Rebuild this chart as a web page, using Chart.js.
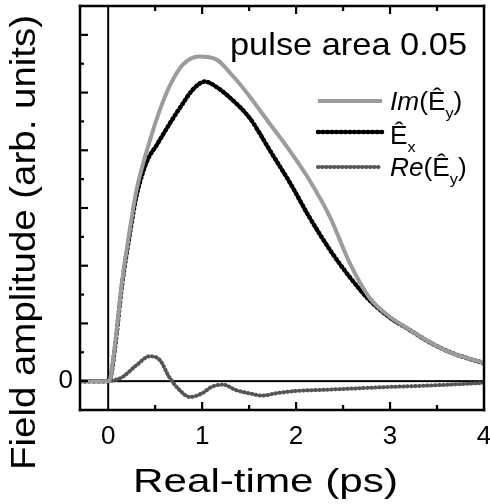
<!DOCTYPE html>
<html><head><meta charset="utf-8">
<script src="https://cdn.jsdelivr.net/npm/chart.js@4.4.1/dist/chart.umd.min.js"></script>
<style>html,body{margin:0;padding:0;background:#fff;}#wrap{width:490px;height:504px;}</style>
</head><body><div id="wrap"><canvas id="c" width="490" height="504"></canvas></div>
<script>
// ---- data ----
const imX = [-0.3,-0.15,0,0.016,0.07,0.15,0.23,0.3,0.44,0.55,0.65,0.79,0.97,1.15,1.32,1.51,1.69,1.93,2.14,2.36,2.57,2.78,2.99,3.21,3.42,3.64,4.0];
const imY = [0,0,0,0.03,1.18,3.5,5.24,6.6,8.3,9.4,10.2,10.95,11.25,11.15,10.6,9.85,9.05,8.0,6.98,5.69,4.1,2.9,2.25,1.78,1.36,1.0,0.63];
const exX = [-0.3,0,0.03,0.07,0.15,0.23,0.3,0.41,0.52,0.65,0.79,0.9,1.03,1.15,1.32,1.51,1.61,1.72,1.93,2.14,2.36,2.57,2.78,2.99,3.21,3.42,3.64,4.0];
const exY = [0,0,0.2,1.1,3.4,5.1,6.4,7.6,8.2,8.9,9.6,10.1,10.38,10.2,9.75,9.1,8.6,8.0,6.9,5.69,4.55,3.61,2.81,2.22,1.77,1.35,1.0,0.62];
const reX = [-0.3,0,0.05,0.15,0.3,0.44,0.55,0.65,0.76,0.87,1.0,1.1,1.22,1.36,1.5,1.64,1.79,2.0,2.3,2.64,3.0,3.35,3.7,4.0];
const reY = [0,0,0.02,0.14,0.55,0.86,0.73,0.14,-0.31,-0.55,-0.42,-0.2,-0.12,-0.31,-0.42,-0.5,-0.42,-0.34,-0.3,-0.25,-0.2,-0.16,-0.11,-0.06];
const xTickValues = [0,1,2,3,4];
const xTickLabels = ['0','1','2','3','4'];
const yTickValues = [0];
const yTickLabels = ['0'];
const xMinorTicks = [0.5,1,1.5,2,2.5,3,3.5];
const yMinorTicks = [0,1,2,3,4,5,6,7,8,9,10,11,12];
const seriesLabels = ['Im','Ê','Re'];
const titleX = 'Real-time (ps)';
const titleY = 'Field amplitude (arb. units)';
const annotation = 'pulse area 0.05';

const FONT = '"Liberation Sans", Arial, Helvetica, sans-serif';
const pts = (xs, ys) => xs.map((x, i) => ({x, y: ys[i]}));

function fitText(ctx, text, x, y, size, width, rot) {
  ctx.save();
  ctx.font = size + 'px ' + FONT;
  const w = ctx.measureText(text).width;
  ctx.translate(x, y);
  if (rot) ctx.rotate(rot);
  ctx.scale(width / w, 1);
  ctx.textAlign = 'left'; ctx.textBaseline = 'alphabetic';
  ctx.fillStyle = '#000';
  ctx.fillText(text, 0, 0);
  ctx.restore();
}
function rich(ctx, segs, x, y, size, sx) {
  ctx.save();
  ctx.translate(x, y); ctx.scale(sx, 1);
  ctx.fillStyle = '#000'; ctx.textBaseline = 'alphabetic'; ctx.textAlign = 'left';
  let cx = 0;
  for (const s of segs) {
    const fs = s.sub ? size * 0.62 : size;
    ctx.font = (s.it ? 'italic ' : '') + fs + 'px ' + FONT;
    ctx.fillText(s.t, cx, s.sub ? size * 0.3 : 0);
    cx += ctx.measureText(s.t).width;
  }
  ctx.restore();
}

const deco = {
  id: 'deco',
  beforeDatasetsDraw(chart) {
    const {ctx, chartArea: a, scales} = chart;
    const x = scales.x, y = scales.y;
    ctx.save();
    ctx.fillStyle = '#000';
    const x0 = x.getPixelForValue(0), y0 = y.getPixelForValue(0);
    ctx.fillRect(x0 - 1, a.top, 2, a.bottom - a.top);
    ctx.fillRect(x0, y0 - 1, a.right - x0, 2);
    ctx.restore();
  },
  afterDraw(chart) {
    const ctx = chart.ctx;
    const a = chart.chartArea;
    const x = chart.scales.x, y = chart.scales.y;
    const L = a.left, R = a.right, T = a.top, B = a.bottom;
    const lw = 2.5, h = lw / 2;
    ctx.save();
    ctx.fillStyle = '#000';
    ctx.fillRect(L - h, T - h, R - L + lw, lw);
    ctx.fillRect(L - h, B - h, R - L + lw, lw);
    ctx.fillRect(L - h, T - h, lw, B - T + lw);
    ctx.fillRect(R - h, T - h, lw, B - T + lw);
    for (const v of xMinorTicks) {
      const px = x.getPixelForValue(v);
      const len = Number.isInteger(v) ? 8 : 5;
      ctx.fillRect(px - 1.1, B - len, 2.2, len);
      ctx.fillRect(px - 1.1, T, 2.2, len);
    }
    for (const v of yMinorTicks) {
      const py = y.getPixelForValue(v);
      const len = v % 2 === 0 ? 8 : 4;
      ctx.fillRect(L, py - 1.1, len, 2.2);
    }
    const ds = chart.data.datasets;
    const rows = [101, 132, 167];
    ds.forEach((d, i) => {
      ctx.save();
      ctx.strokeStyle = d.borderColor; ctx.lineWidth = d.borderWidth;
      ctx.lineCap = d.borderCapStyle || 'butt';
      ctx.setLineDash(d.borderDash || []);
      ctx.beginPath(); ctx.moveTo(318, rows[i]); ctx.lineTo(382, rows[i]); ctx.stroke();
      ctx.restore();
    });
    rich(ctx, [{t:seriesLabels[0], it:true},{t:'(Ê'},{t:'y',sub:true},{t:')'}], 390, rows[0] + 9, 25, 1.05);
    rich(ctx, [{t:seriesLabels[1]},{t:'x',sub:true}], 390, rows[1] + 12, 25, 1.05);
    rich(ctx, [{t:seriesLabels[2], it:true},{t:'(Ê'},{t:'y',sub:true},{t:')'}], 390, rows[2] + 9, 25, 1.05);
    fitText(ctx, annotation, 230, 55, 32, 237);
    fitText(ctx, titleX, 133, 492, 33, 265);
    fitText(ctx, titleY, 35, 470, 35, 455, -Math.PI / 2);
    ctx.restore();
  }
};

new Chart(document.getElementById('c'), {
  type: 'line',
  data: { datasets: [
    { label: 'Im(Ey)', data: pts(imX, imY), borderColor: '#9c9c9c', borderWidth: 4, pointRadius: 0, cubicInterpolationMode: 'monotone', order: 0 },
    { label: 'Ex', data: pts(exX, exY), borderColor: '#000000', borderWidth: 4.5, borderDash: [1, 3.5], borderCapStyle: 'round', pointRadius: 0, cubicInterpolationMode: 'monotone', order: 1 },
    { label: 'Re(Ey)', data: pts(reX, reY), borderColor: '#555555', borderWidth: 4, borderDash: [0.5, 3.5], borderCapStyle: 'round', pointRadius: 0, cubicInterpolationMode: 'monotone', order: 2 }
  ]},
  options: {
    responsive: false, animation: false, devicePixelRatio: 1,
    layout: { padding: { top: 6, right: 6, left: 0, bottom: 0 } },
    plugins: { legend: { display: false }, tooltip: { enabled: false } },
    scales: {
      x: { type: 'linear', min: -0.3, max: 4,
        afterBuildTicks: s => { s.ticks = xTickValues.map(v => ({ value: v })); },
        grid: { display: false, drawTicks: false }, border: { display: false },
        ticks: { color: '#000', font: { family: FONT, size: 26 }, padding: 11, maxRotation: 0, autoSkip: false,
          callback: v => xTickLabels[xTickValues.indexOf(v)] },
        afterFit: s => { s.height = 94; s.paddingLeft = 0; s.paddingRight = 0; } },
      y: { type: 'linear', min: -1, max: 13,
        afterBuildTicks: s => { s.ticks = yTickValues.map(v => ({ value: v })); },
        grid: { display: false, drawTicks: false }, border: { display: false },
        ticks: { color: '#000', font: { family: FONT, size: 26 }, padding: 7, autoSkip: false,
          callback: v => yTickLabels[yTickValues.indexOf(v)] },
        afterFit: s => { s.width = 80; s.paddingTop = 0; s.paddingBottom = 0; } }
    }
  },
  plugins: [deco]
});
</script></body></html>
